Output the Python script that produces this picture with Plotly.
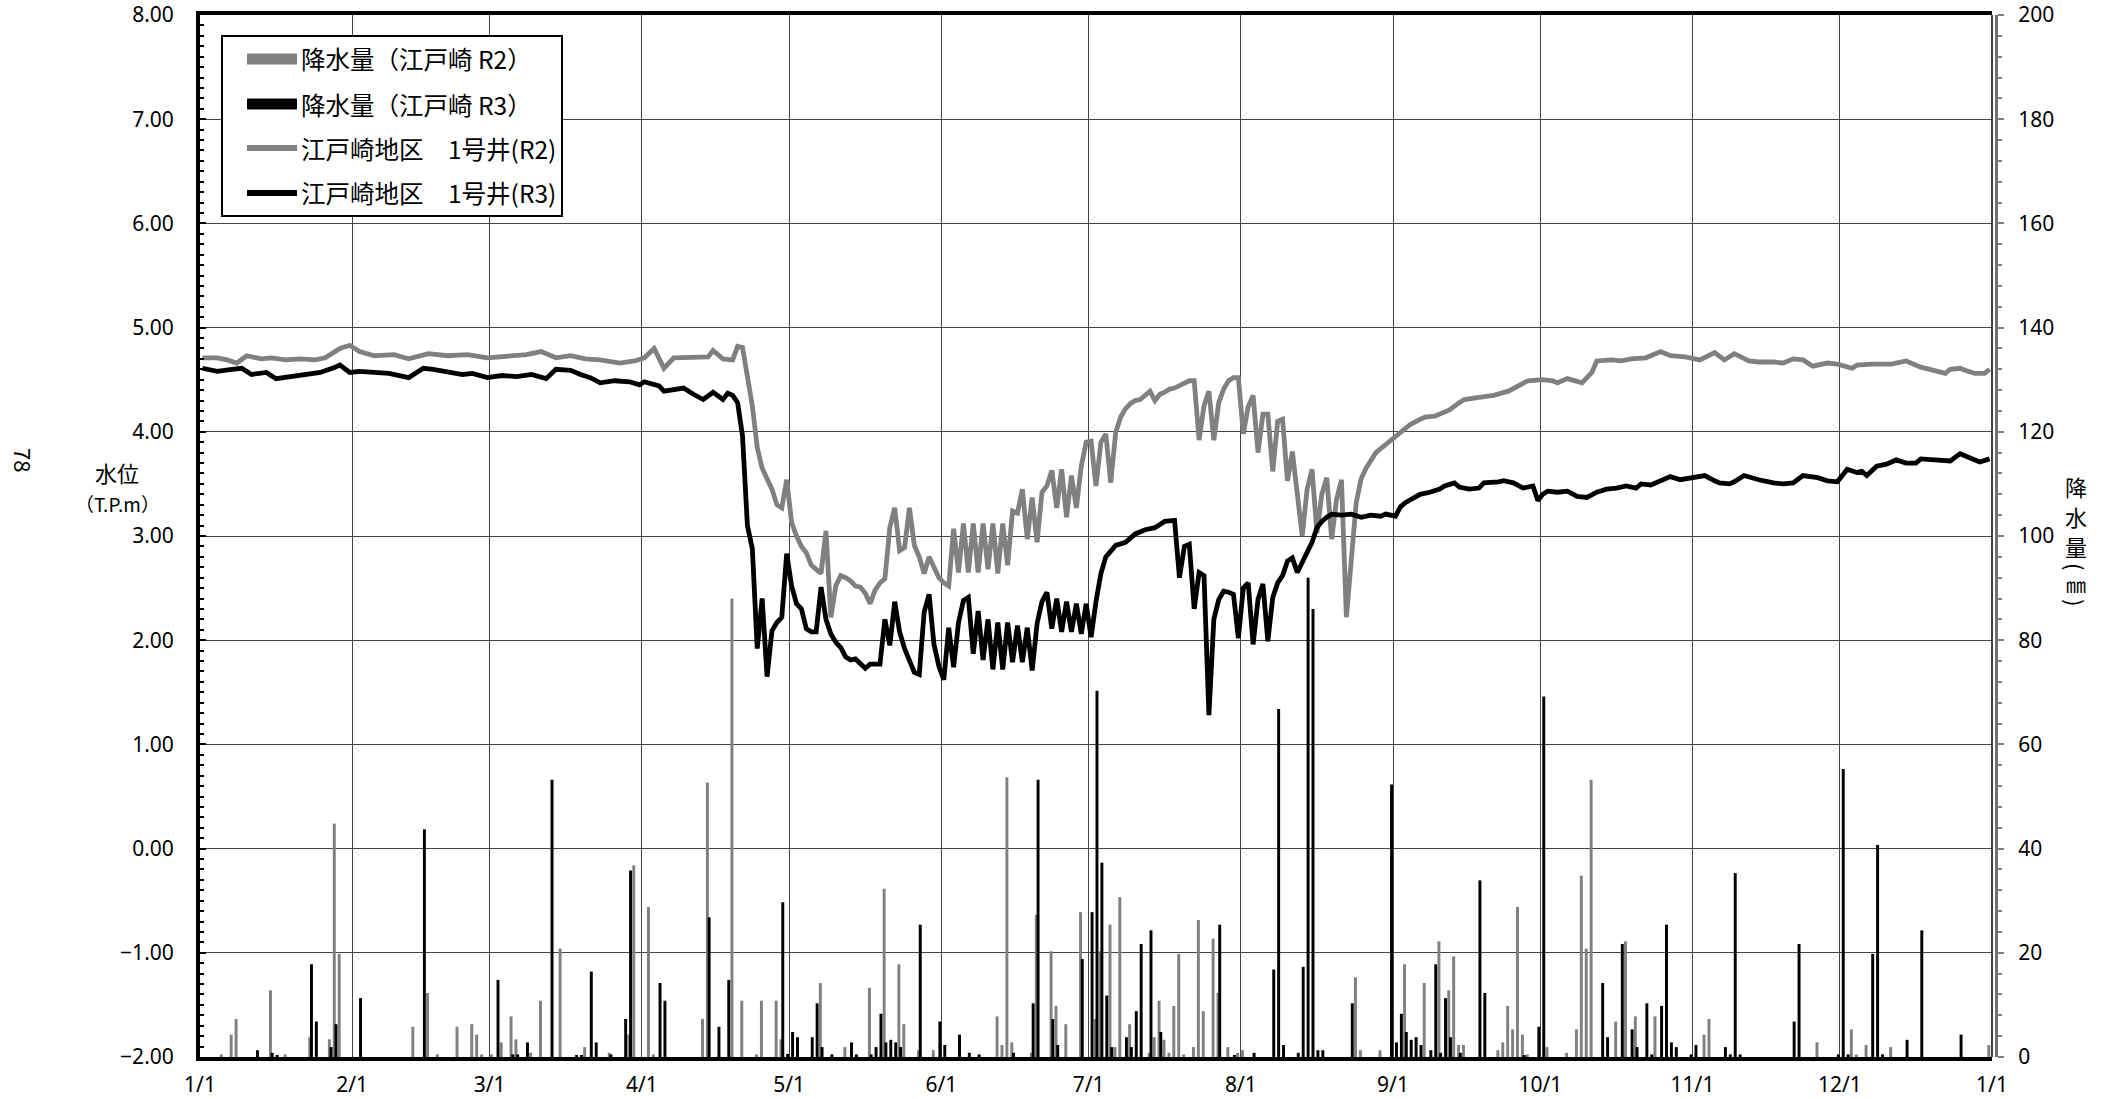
import pandas as pd
import plotly.graph_objects as go

BASE = pd.Timestamp("2021-01-01")
FONT = "Noto Sans CJK JP"
NUM_FONT = "Noto Sans"

# ---- 江戸崎地区 1号井 水位 (T.P.m): day offset from 1/1 and level ----
well_r2_day = [0, 3, 5, 7, 9, 12, 14, 17, 20, 23, 25, 28, 30, 32, 35, 39, 42, 46, 50, 54,
               58, 62, 66, 69, 72, 75, 78, 81, 85, 88, 90, 92, 94, 96, 100, 103, 104, 106, 108, 109,
               110, 111, 112, 113, 114, 115, 116, 117, 118, 119, 120, 121, 122, 123, 124, 125, 126, 127, 128, 129,
               130, 131, 132, 133, 134, 135, 136, 137, 138, 139, 140, 141, 142, 143, 144, 145, 146, 147, 148, 149,
               150, 151, 152, 153, 154, 155, 156, 157, 158, 159, 160, 161, 162, 163, 164, 165, 166, 167, 168, 169,
               170, 171, 172, 173, 174, 175, 176, 177, 178, 179, 180, 181, 182, 183, 184, 185, 186, 187, 188, 189,
               190, 191, 192, 193, 194, 195, 196, 197, 198, 199, 200, 201, 202, 203, 204, 205, 206, 207, 208, 209,
               210, 211, 212, 213, 214, 215, 216, 217, 218, 219, 220, 221, 222, 224, 225, 226, 227, 228, 229, 230,
               231, 232, 233, 234, 235, 236, 237, 239, 241, 243, 245, 246, 248, 249, 251, 254, 256, 257, 260, 263,
               266, 268, 270, 273, 275, 276, 278, 281, 283, 284, 287, 289, 291, 294, 297, 299, 302, 305, 308, 310,
               312, 315, 317, 320, 322, 324, 326, 328, 331, 333, 336, 337, 340, 344, 347, 350, 353, 355, 356, 358,
               359, 361, 363, 364]
well_r2_level = [4.71, 4.71, 4.69, 4.66, 4.73, 4.70, 4.71, 4.69, 4.70, 4.69, 4.71, 4.80, 4.83, 4.77, 4.73, 4.74, 4.70, 4.75, 4.73, 4.74,
                 4.71, 4.73, 4.74, 4.77, 4.71, 4.73, 4.70, 4.69, 4.66, 4.68, 4.71, 4.80, 4.61, 4.71, 4.71, 4.72, 4.78, 4.70, 4.69, 4.82,
                 4.81, 4.55, 4.25, 3.85, 3.65, 3.55, 3.45, 3.30, 3.27, 3.54, 3.13, 3.00, 2.90, 2.84, 2.72, 2.68, 2.64, 3.05, 2.22, 2.52,
                 2.62, 2.60, 2.57, 2.52, 2.51, 2.45, 2.35, 2.48, 2.55, 2.59, 3.08, 3.27, 2.86, 2.89, 3.27, 2.91, 2.80, 2.64, 2.80, 2.70,
                 2.60, 2.55, 2.52, 3.07, 2.65, 3.12, 2.65, 3.12, 2.65, 3.12, 2.68, 3.12, 2.64, 3.12, 2.72, 3.24, 3.22, 3.45, 2.97, 3.37,
                 2.94, 3.42, 3.48, 3.63, 3.27, 3.64, 3.18, 3.58, 3.27, 3.67, 3.90, 3.91, 3.48, 3.90, 3.98, 3.51, 3.99, 4.14, 4.22, 4.27,
                 4.30, 4.31, 4.35, 4.39, 4.30, 4.36, 4.38, 4.41, 4.42, 4.44, 4.46, 4.49, 4.49, 3.92, 4.25, 4.39, 3.92, 4.28, 4.41, 4.49,
                 4.52, 4.52, 3.98, 4.24, 4.35, 3.80, 4.17, 4.17, 3.62, 4.10, 4.12, 3.53, 3.81, 3.00, 3.45, 3.64, 3.03, 3.40, 3.56, 2.97,
                 3.35, 3.54, 2.22, 2.84, 3.32, 3.55, 3.65, 3.80, 3.88, 3.96, 4.03, 4.07, 4.12, 4.14, 4.15, 4.21, 4.28, 4.31, 4.33, 4.35,
                 4.39, 4.44, 4.49, 4.50, 4.49, 4.47, 4.51, 4.47, 4.57, 4.68, 4.69, 4.68, 4.70, 4.71, 4.77, 4.73, 4.72, 4.69, 4.76, 4.69,
                 4.75, 4.68, 4.67, 4.67, 4.66, 4.70, 4.69, 4.63, 4.66, 4.65, 4.61, 4.64, 4.65, 4.65, 4.68, 4.62, 4.59, 4.56, 4.60, 4.61,
                 4.59, 4.56, 4.56, 4.60]

well_r3_day = [0, 3, 6, 8, 10, 13, 15, 18, 21, 24, 27, 28, 30, 32, 35, 38, 42, 43, 45, 47,
               50, 53, 55, 58, 61, 64, 67, 70, 72, 75, 77, 79, 81, 84, 87, 89, 90, 92, 93, 94,
               96, 98, 100, 102, 104, 106, 107, 108, 109, 110, 111, 112, 113, 114, 115, 116, 117, 118, 119, 120,
               121, 122, 123, 124, 125, 126, 127, 128, 129, 130, 131, 132, 133, 134, 135, 136, 137, 138, 139, 140,
               141, 142, 143, 144, 145, 146, 147, 148, 149, 150, 151, 152, 153, 154, 155, 156, 157, 158, 159, 160,
               161, 162, 163, 164, 165, 166, 167, 168, 169, 170, 171, 172, 173, 174, 175, 176, 177, 178, 179, 180,
               181, 182, 183, 184, 186, 188, 190, 192, 194, 196, 198, 199, 200, 201, 202, 203, 204, 205, 206, 207,
               208, 209, 210, 211, 212, 213, 214, 215, 216, 217, 218, 219, 220, 221, 222, 223, 224, 225, 226, 227,
               228, 229, 230, 232, 234, 236, 238, 240, 241, 243, 244, 245, 246, 248, 250, 252, 253, 255, 256, 258,
               260, 261, 264, 265, 267, 269, 271, 272, 273, 274, 276, 278, 280, 282, 284, 286, 288, 290, 292, 293,
               295, 297, 299, 301, 304, 306, 308, 309, 311, 312, 314, 316, 317, 320, 322, 324, 326, 329, 331, 333,
               335, 337, 338, 339, 341, 343, 345, 347, 349, 350, 353, 355, 356, 358, 360, 362, 364]
well_r3_level = [4.61, 4.58, 4.60, 4.61, 4.55, 4.57, 4.51, 4.53, 4.55, 4.57, 4.62, 4.64, 4.57, 4.58, 4.57, 4.56, 4.52, 4.55, 4.61, 4.60,
                 4.58, 4.55, 4.56, 4.52, 4.54, 4.53, 4.55, 4.51, 4.60, 4.59, 4.55, 4.52, 4.47, 4.49, 4.48, 4.45, 4.48, 4.45, 4.44, 4.39,
                 4.40, 4.42, 4.36, 4.31, 4.38, 4.31, 4.37, 4.35, 4.28, 3.96, 3.10, 2.88, 1.92, 2.40, 1.65, 2.09, 2.17, 2.22, 2.83, 2.52,
                 2.35, 2.30, 2.11, 2.08, 2.08, 2.51, 2.20, 2.06, 1.98, 1.93, 1.84, 1.81, 1.82, 1.77, 1.73, 1.77, 1.77, 1.77, 2.20, 1.95,
                 2.37, 2.08, 1.92, 1.79, 1.69, 1.67, 2.27, 2.44, 1.96, 1.75, 1.62, 2.12, 1.74, 2.17, 2.38, 2.41, 1.87, 2.28, 1.81, 2.20,
                 1.72, 2.17, 1.72, 2.17, 1.79, 2.14, 1.79, 2.12, 1.71, 2.16, 2.37, 2.46, 2.11, 2.40, 2.08, 2.37, 2.08, 2.35, 2.06, 2.35,
                 2.03, 2.37, 2.64, 2.80, 2.91, 2.94, 3.02, 3.06, 3.08, 3.14, 3.15, 2.60, 2.90, 2.92, 2.30, 2.65, 2.62, 1.28, 2.20, 2.39,
                 2.47, 2.46, 2.44, 2.02, 2.50, 2.55, 1.96, 2.39, 2.54, 1.99, 2.41, 2.55, 2.62, 2.76, 2.79, 2.65, 2.74, 2.85, 2.94, 3.08,
                 3.14, 3.18, 3.21, 3.20, 3.21, 3.18, 3.20, 3.19, 3.21, 3.19, 3.28, 3.32, 3.35, 3.40, 3.42, 3.45, 3.48, 3.51, 3.47, 3.45,
                 3.46, 3.51, 3.52, 3.53, 3.51, 3.46, 3.48, 3.34, 3.40, 3.43, 3.42, 3.43, 3.38, 3.37, 3.42, 3.45, 3.46, 3.48, 3.46, 3.50,
                 3.49, 3.53, 3.57, 3.54, 3.56, 3.58, 3.53, 3.51, 3.50, 3.52, 3.58, 3.55, 3.54, 3.51, 3.50, 3.51, 3.58, 3.56, 3.53, 3.52,
                 3.64, 3.61, 3.62, 3.58, 3.67, 3.69, 3.73, 3.70, 3.70, 3.74, 3.73, 3.73, 3.72, 3.79, 3.75, 3.71, 3.74]

# ---- 降水量 (江戸崎, mm): day offset from 1/1 and daily total ----
rain_r2_day = [4, 6, 7, 14, 17, 22, 26, 27, 28, 43, 46, 48, 52, 55, 56, 57, 59, 61, 63, 64,
               67, 69, 73, 78, 83, 87, 88, 91, 92, 102, 103, 108, 110, 113, 114, 117, 118, 126, 131, 136,
               139, 142, 143, 146, 149, 162, 163, 164, 165, 169, 170, 173, 174, 176, 179, 182, 183, 185, 186, 187,
               189, 193, 194, 195, 196, 197, 198, 199, 200, 202, 203, 204, 206, 207, 209, 211, 212, 235, 236, 240,
               245, 249, 252, 254, 255, 256, 257, 264, 265, 266, 267, 268, 269, 270, 274, 278, 280, 281, 282, 283,
               288, 290, 292, 296, 306, 307, 329, 336, 337, 339, 344, 364]
rain_r2_mm = [0.5, 4.3, 7.3, 12.8, 0.5, 3.8, 3.4, 44.8, 19.8, 5.8, 12.3, 0.5, 5.8, 6.3, 4.3, 0.5, 0.5, 2.8, 7.8, 3.4,
              0.8, 10.8, 20.8, 1.9, 0.8, 4.3, 36.8, 28.8, 0.5, 7.3, 52.7, 88.0, 10.8, 0.5, 10.8, 10.8, 3.4, 14.2, 1.9, 13.3,
              32.3, 17.8, 6.3, 1.3, 1.3, 7.8, 2.3, 53.7, 2.8, 0.8, 27.3, 20.3, 9.8, 6.3, 27.8, 7.3, 20.3, 25.4, 1.9, 30.7,
              6.3, 0.8, 3.8, 10.8, 3.3, 0.8, 9.8, 19.8, 0.5, 1.9, 26.3, 8.8, 22.7, 12.3, 1.9, 0.8, 1.3, 15.3, 1.3, 1.3,
              17.8, 14.2, 22.2, 12.8, 19.3, 2.3, 2.3, 1.3, 2.8, 9.8, 5.3, 28.8, 4.3, 0.5, 1.9, 0.8, 5.3, 34.8, 20.8, 53.2,
              6.8, 22.2, 7.8, 7.8, 4.3, 7.3, 2.8, 5.3, 0.5, 2.3, 1.9, 2.3]

rain_r3_day = [11, 14, 15, 22, 23, 26, 27, 32, 45, 60, 63, 64, 66, 71, 76, 77, 79, 80, 83, 86,
               87, 93, 94, 103, 105, 107, 118, 119, 120, 121, 124, 125, 126, 128, 132, 133, 136, 137, 138, 139,
               140, 141, 142, 146, 150, 151, 154, 156, 158, 165, 169, 170, 173, 174, 179, 181, 182, 183, 184, 185,
               188, 189, 190, 191, 193, 195, 207, 210, 214, 218, 219, 220, 223, 224, 225, 226, 227, 228, 234, 242,
               243, 244, 245, 246, 247, 248, 250, 251, 252, 253, 254, 256, 260, 261, 269, 272, 273, 285, 286, 289,
               291, 292, 294, 295, 297, 298, 299, 300, 303, 304, 310, 311, 312, 313, 324, 325, 333, 334, 335, 340,
               341, 342, 347, 350, 358]
rain_r3_mm = [1.3, 0.8, 0.3, 17.8, 6.8, 1.9, 6.3, 11.3, 43.7, 14.8, 0.5, 0.5, 2.8, 53.2, 0.3, 0.3, 16.4, 2.8, 0.5, 7.3,
              35.8, 14.2, 10.8, 26.8, 5.8, 14.8, 29.7, 0.6, 4.8, 3.8, 3.8, 10.3, 1.9, 0.5, 2.8, 0.5, 0.5, 1.9, 8.3, 2.8,
              3.3, 2.8, 1.9, 25.4, 6.8, 2.3, 4.3, 0.8, 0.5, 0.8, 10.3, 53.2, 7.3, 2.3, 18.8, 27.8, 70.3, 37.3, 11.8, 1.9,
              3.8, 1.9, 8.8, 21.7, 24.3, 4.8, 25.4, 0.3, 0.8, 16.8, 66.8, 2.3, 0.8, 17.3, 92.0, 86.0, 1.3, 1.3, 10.3, 52.3,
              2.8, 8.3, 4.8, 3.3, 3.8, 2.3, 1.3, 17.8, 0.8, 11.3, 3.8, 0.8, 33.9, 12.3, 0.3, 5.8, 69.2, 14.2, 3.8, 21.7,
              5.3, 1.9, 10.3, 0.5, 9.8, 25.4, 2.8, 1.9, 0.5, 2.3, 1.9, 0.5, 35.3, 0.5, 6.8, 21.7, 0.5, 55.3, 0.5, 19.8,
              40.7, 0.5, 3.3, 24.3, 4.3]

month_ticks = ["2021-01-01", "2021-02-01", "2021-03-01", "2021-04-01", "2021-05-01", "2021-06-01",
               "2021-07-01", "2021-08-01", "2021-09-01", "2021-10-01", "2021-11-01", "2021-12-01",
               "2022-01-01"]
month_labels = ["1/1", "2/1", "3/1", "4/1", "5/1", "6/1", "7/1", "8/1", "9/1", "10/1", "11/1", "12/1", "1/1"]

level_ticks = [-2, -1, 0, 1, 2, 3, 4, 5, 6, 7, 8]
rain_ticks = [0, 20, 40, 60, 80, 100, 120, 140, 160, 180, 200]

legend_names = ["降水量（江戸崎 R2）", "降水量（江戸崎 R3）", "江戸崎地区　1号井(R2)", "江戸崎地区　1号井(R3)"]

GRAY = "#808080"
BLACK = "#000000"
DAY_MS = 86400000


def to_dates(days, shift_hours=0):
    return [BASE + pd.Timedelta(days=d, hours=shift_hours) for d in days]


# ---- page geometry (px) ----
W, H = 2114, 1099
ML, MR, MT, MB = 200, 118, 15, 42
PLOT_R = 1992                      # right edge of the data area
PW = W - ML - MR                   # paper width
PH = H - MT - MB                   # paper height


def px(x):
    return (x - ML) / PW


def py(y):
    return (H - MB - y) / PH


fig = go.Figure()

# precipitation bars (right axis)
fig.add_trace(go.Bar(
    x=to_dates(rain_r2_day), y=rain_r2_mm, yaxis="y",
    width=0.6 * DAY_MS, offset=0.05 * DAY_MS,
    marker=dict(color=GRAY, line=dict(width=0)), showlegend=False, name=legend_names[0]))
fig.add_trace(go.Bar(
    x=to_dates(rain_r3_day), y=rain_r3_mm, yaxis="y",
    width=0.6 * DAY_MS, offset=0.4 * DAY_MS,
    marker=dict(color=BLACK, line=dict(width=0)), showlegend=False, name=legend_names[1]))

# groundwater levels (left axis)
fig.add_trace(go.Scatter(
    x=to_dates(well_r2_day, 12), y=well_r2_level, yaxis="y2", mode="lines",
    line=dict(color=GRAY, width=4.8), showlegend=False, name=legend_names[2]))
fig.add_trace(go.Scatter(
    x=to_dates(well_r3_day, 12), y=well_r3_level, yaxis="y2", mode="lines",
    line=dict(color=BLACK, width=4.8), showlegend=False, name=legend_names[3]))

tick_font = dict(family=NUM_FONT, size=21, color="#000")

fig.update_layout(
    width=W, height=H, autosize=False,
    margin=dict(l=ML, r=MR, t=MT, b=MB, pad=0, autoexpand=False),
    paper_bgcolor="white", plot_bgcolor="white",
    barmode="overlay",
    font=dict(family=FONT, color="#000"),
    xaxis=dict(
        type="date", range=["2021-01-01", "2022-01-01"],
        domain=[0, px(PLOT_R)], anchor="y2", automargin=False,
        tickmode="array", tickvals=month_ticks, ticktext=month_labels,
        showgrid=True, gridcolor="#444444", gridwidth=1.4,
        showline=True, linecolor=BLACK, linewidth=4, mirror=True,
        ticks="", tickfont=tick_font, ticklabelstandoff=6,
        ticklabeloverflow="allow", zeroline=False,
    ),
    yaxis=dict(
        range=[0, 200], side="right", anchor="free", position=1.0, automargin=False,
        tickmode="array", tickvals=rain_ticks, ticktext=[str(v) for v in rain_ticks],
        showgrid=True, gridcolor="#444444", gridwidth=1.4, zeroline=False,
        showline=True, linecolor="#707070", linewidth=3,
        ticks="outside", ticklen=6, tickwidth=2, tickcolor="#808080",
        minor=dict(dtick=4, ticks="outside", ticklen=4, tickwidth=2, tickcolor="#808080", showgrid=False),
        tickfont=tick_font, ticklabelstandoff=10, ticklabeloverflow="allow",
    ),
    yaxis2=dict(
        range=[-2, 8], overlaying="y", side="left", anchor="x", automargin=False,
        tickmode="array", tickvals=level_ticks,
        ticktext=[f"{v:.2f}".replace("-", "\u2212") for v in level_ticks],
        showgrid=False, zeroline=False,
        showline=True, linecolor=BLACK, linewidth=4,
        ticks="inside", ticklen=6, tickwidth=1.5, tickcolor=BLACK,
        minor=dict(dtick=0.1, ticks="inside", ticklen=4, tickwidth=1.5, tickcolor=BLACK, showgrid=False),
        tickfont=tick_font, ticklabelstandoff=18, ticklabeloverflow="allow",
    ),
)

shapes = []
# thin right border of the data area
shapes.append(dict(type="line", xref="paper", yref="paper", x0=px(PLOT_R), x1=px(PLOT_R), y0=0, y1=1,
                   line=dict(color=BLACK, width=1.5), layer="above"))

# legend box
LX0, LX1, LY0, LY1 = 222, 562, 36, 216
shapes.append(dict(type="rect", xref="paper", yref="paper",
                   x0=px(LX0), x1=px(LX1), y0=py(LY1), y1=py(LY0),
                   fillcolor="white", line=dict(color=BLACK, width=2), layer="above"))
row_y = [59, 104, 148, 193]
SX0, SX1 = 247, 297
sym_colors = [GRAY, BLACK, GRAY, BLACK]
for i, yy in enumerate(row_y):
    if i < 2:
        shapes.append(dict(type="rect", xref="paper", yref="paper",
                           x0=px(SX0), x1=px(SX1), y0=py(yy + 5.5), y1=py(yy - 5.5),
                           fillcolor=sym_colors[i], line=dict(width=0), layer="above"))
    else:
        shapes.append(dict(type="line", xref="paper", yref="paper",
                           x0=px(SX0), x1=px(SX1), y0=py(yy), y1=py(yy),
                           line=dict(color=sym_colors[i], width=6), layer="above"))

annotations = []
for i, yy in enumerate(row_y):
    annotations.append(dict(text=legend_names[i], xref="paper", yref="paper",
                            x=px(299), y=py(yy), xanchor="left", yanchor="middle",
                            showarrow=False, font=dict(family=FONT, size=24.5, color=BLACK)))

# left axis title
annotations.append(dict(text="水位", xref="paper", yref="paper", x=px(117), y=py(472),
                        xanchor="center", yanchor="middle", showarrow=False,
                        font=dict(family=FONT, size=22, color=BLACK)))
annotations.append(dict(text="（T.P.m）", xref="paper", yref="paper", x=px(117), y=py(503),
                        xanchor="center", yanchor="middle", showarrow=False,
                        font=dict(family=FONT, size=19, color=BLACK)))

# right axis title, written vertically: 降 水 量 (㎜)
RT_X = px(2076)
for ch, yy in zip(["降", "水", "量"], [486, 516, 546]):
    annotations.append(dict(text=ch, xref="paper", yref="paper", x=RT_X, y=py(yy),
                            xanchor="center", yanchor="middle", showarrow=False,
                            font=dict(family=FONT, size=22, color=BLACK)))
annotations.append(dict(text="(", xref="paper", yref="paper", x=RT_X, y=py(566),
                        xanchor="center", yanchor="middle", showarrow=False, textangle=90,
                        font=dict(family=FONT, size=22, color=BLACK)))
annotations.append(dict(text="㎜", xref="paper", yref="paper", x=RT_X, y=py(584),
                        xanchor="center", yanchor="middle", showarrow=False,
                        font=dict(family=FONT, size=20, color=BLACK)))
annotations.append(dict(text=")", xref="paper", yref="paper", x=RT_X, y=py(602),
                        xanchor="center", yanchor="middle", showarrow=False, textangle=90,
                        font=dict(family=FONT, size=22, color=BLACK)))

# page number
annotations.append(dict(text="78", xref="paper", yref="paper", x=px(24), y=py(460),
                        xanchor="center", yanchor="middle", showarrow=False, textangle=90,
                        font=dict(family=FONT, size=22, color=BLACK)))

fig.update_layout(shapes=shapes, annotations=annotations)

fig.write_html("out.html")
